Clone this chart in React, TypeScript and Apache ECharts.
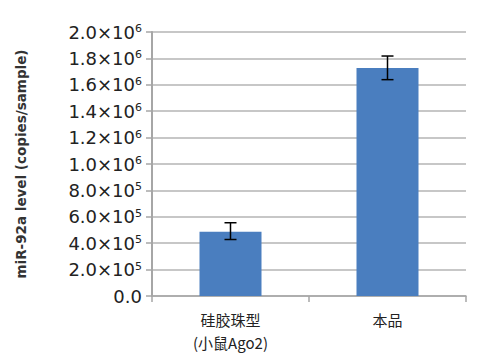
import React, { useEffect, useRef } from "react";
import * as echarts from "echarts";

const categories = ["硅胶珠型\n(小鼠Ago2)", "本品"];
const values = [487000, 1727000];
const errLow = [428000, 1639000];
const errHigh = [555000, 1818000];
const yMin = 0;
const yMax = 2000000;
const yInterval = 200000;

function fmt(v: number): string {
  if (v === 0) return "{a|0.0}";
  const e = Math.floor(Math.log10(v) + 1e-9);
  const m = v / Math.pow(10, e);
  return "{a|" + m.toFixed(1) + "×10}{b|" + e + "}";
}

export default function App() {
  const ref = useRef<HTMLDivElement>(null);
  useEffect(() => {
    const chart = echarts.init(ref.current!, undefined, { renderer: "svg" });
    chart.setOption({
      animation: false,
      backgroundColor: "#ffffff",
      grid: { left: 152, right: 19, top: 32, bottom: 68 },
      xAxis: {
        type: "category",
        data: categories,
        axisLine: { lineStyle: { color: "#a6a6a6", width: 1.5 } },
        axisTick: { show: true, length: 6, lineStyle: { color: "#a6a6a6", width: 1.5 } },
        axisLabel: {
          margin: 12,
          fontSize: 15,
          lineHeight: 23,
          color: "#222222",
          fontFamily: "Noto Sans CJK SC",
        },
      },
      yAxis: {
        type: "value",
        min: yMin,
        max: yMax,
        interval: yInterval,
        name: "miR-92a level (copies/sample)",
        nameLocation: "middle",
        nameGap: 124,
        nameTextStyle: {
          fontSize: 13.5,
          fontWeight: "bold",
          color: "#333333",
          fontFamily: "DejaVu Sans",
        },
        axisLine: { show: true, lineStyle: { color: "#a6a6a6", width: 2 } },
        axisTick: { show: true, length: 6, lineStyle: { color: "#a6a6a6", width: 1.5 } },
        splitLine: { lineStyle: { color: "#b4b4b4", width: 1.5 } },
        axisLabel: {
          margin: 10,
          formatter: (v: number) => fmt(v),
          rich: {
            a: { fontSize: 18, color: "#222222", fontFamily: "DejaVu Sans" },
            b: { fontSize: 11, color: "#222222", fontFamily: "DejaVu Sans", verticalAlign: "top" },
          },
        },
      },
      series: [
        {
          type: "bar",
          data: values,
          barWidth: 62,
          itemStyle: { color: "#4a7ebf" },
        },
        {
          type: "custom",
          data: categories.map((_, i) => [i, errLow[i], errHigh[i]]),
          renderItem: (params: any, api: any) => {
            const x = api.value(0);
            const lo = api.coord([x, api.value(1)]);
            const hi = api.coord([x, api.value(2)]);
            const hw = 6;
            const style = { stroke: "#000000", lineWidth: 1.5, fill: "none" };
            return {
              type: "group",
              children: [
                { type: "line", shape: { x1: lo[0], y1: lo[1], x2: hi[0], y2: hi[1] }, style },
                { type: "line", shape: { x1: hi[0] - hw, y1: hi[1], x2: hi[0] + hw, y2: hi[1] }, style },
                { type: "line", shape: { x1: lo[0] - hw, y1: lo[1], x2: lo[0] + hw, y2: lo[1] }, style },
              ],
            };
          },
          z: 10,
        },
      ],
    });
    return () => chart.dispose();
  }, []);
  return <div ref={ref} style={{ width: 485, height: 364, margin: -8 }} />;
}
